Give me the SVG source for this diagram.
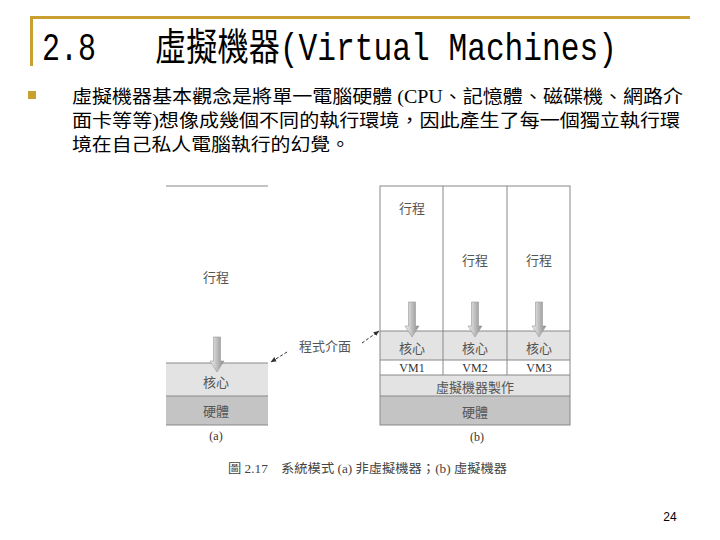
<svg xmlns="http://www.w3.org/2000/svg" width="720" height="540" viewBox="0 0 720 540">
<style>
.title{font-family:"Liberation Mono","Noto Sans CJK TC",monospace;font-size:38px;fill:#000}
.body{font-family:"Liberation Serif","Noto Sans CJK TC",serif;font-size:18px;fill:#000}
.lbl{font-family:"Noto Sans CJK TC",sans-serif;font-size:13px;fill:#555;text-anchor:middle;dominant-baseline:central}
.vm{font-family:"Liberation Serif","Noto Sans CJK TC",serif;font-size:12px;fill:#333;text-anchor:middle;dominant-baseline:central}
.cap{font-family:"Liberation Serif","Noto Sans CJK TC",serif;font-size:12.5px;fill:#444}
.ln{stroke:#888;stroke-width:1;fill:none}
.k{fill:#e3e3e3}
.h{fill:#c4c4c4}
.dash{stroke:#333;stroke-width:1;stroke-dasharray:3,2;fill:none}
</style>
<defs>
<linearGradient id="ag" x1="0" y1="0" x2="1" y2="0">
<stop offset="0" stop-color="#f2f2f2"/>
<stop offset="1" stop-color="#8a8a8a"/>
</linearGradient>
<path id="barrow" d="M-3.5,0 H3.5 V24 H7 L0,35 L-7,24 H-3.5 Z" fill="url(#ag)" stroke="#999" stroke-width="0.6"/>
<marker id="mh" viewBox="0 0 10 10" refX="9" refY="5" markerWidth="6" markerHeight="6" orient="auto">
<path d="M0,1 L10,5 L0,9 Z" fill="#333"/>
</marker>
</defs>
<rect width="720" height="540" fill="#fff"/>
<g id="title-bar">
<line x1="30" y1="17.5" x2="690" y2="17.5" stroke="#c9a030" stroke-width="3"/>
<line x1="31.5" y1="16" x2="31.5" y2="66" stroke="#c9a030" stroke-width="3"/>
</g>
<g id="title">
<text class="title" x="42" y="60" textLength="54" lengthAdjust="spacingAndGlyphs">2.8</text>
<text class="title" x="155" y="60" textLength="462" lengthAdjust="spacingAndGlyphs">虛擬機器(Virtual Machines)</text>
</g>
<g id="bullet">
<rect x="28" y="91" width="8" height="8" fill="#c9a030"/>
<text class="body" x="72" y="103" textLength="611" lengthAdjust="spacingAndGlyphs">虛擬機器基本觀念是將單一電腦硬體 (CPU、記憶體、磁碟機、網路介</text>
<text class="body" x="72" y="127" textLength="608" lengthAdjust="spacingAndGlyphs">面卡等等)想像成幾個不同的執行環境，因此產生了每一個獨立執行環</text>
<text class="body" x="72" y="151" textLength="278" lengthAdjust="spacingAndGlyphs">境在自己私人電腦執行的幻覺。</text>
</g>
<g id="fig-a">
<line class="ln" x1="166" y1="186" x2="268" y2="186"/>
<text class="lbl" x="216" y="276">行程</text>
<rect class="k" x="166" y="363" width="102" height="33"/>
<rect class="h" x="166" y="396" width="102" height="29"/>
<line class="ln" x1="166" y1="363" x2="268" y2="363"/>
<line class="ln" x1="166" y1="396" x2="268" y2="396"/>
<line class="ln" x1="166" y1="425" x2="268" y2="425"/>
<text class="lbl" x="216" y="381">核心</text>
<text class="lbl" x="216" y="410">硬體</text>
<text class="vm" x="216" y="436">(a)</text>
</g>
<g id="fig-b">
<rect class="k" x="380" y="331" width="190" height="29"/>
<rect class="k" x="380" y="375" width="190" height="21"/>
<rect class="h" x="380" y="396" width="190" height="29"/>
<rect class="ln" x="380" y="186" width="190" height="239"/>
<line class="ln" x1="443" y1="186" x2="443" y2="375"/>
<line class="ln" x1="507" y1="186" x2="507" y2="375"/>
<line class="ln" x1="380" y1="331" x2="570" y2="331"/>
<line class="ln" x1="380" y1="360" x2="570" y2="360"/>
<line class="ln" x1="380" y1="375" x2="570" y2="375"/>
<line class="ln" x1="380" y1="396" x2="570" y2="396"/>
<text class="lbl" x="412" y="207">行程</text>
<text class="lbl" x="475" y="259">行程</text>
<text class="lbl" x="539" y="259">行程</text>
<text class="lbl" x="412" y="347">核心</text>
<text class="lbl" x="475" y="347">核心</text>
<text class="lbl" x="539" y="347">核心</text>
<text class="vm" x="412" y="368">VM1</text>
<text class="vm" x="475" y="368">VM2</text>
<text class="vm" x="539" y="368">VM3</text>
<text class="lbl" x="475" y="386">虛擬機器製作</text>
<text class="lbl" x="475" y="411">硬體</text>
<text class="vm" x="477" y="437">(b)</text>
</g>
<g id="interface-label">
<text class="lbl" x="325" y="345">程式介面</text>
</g>
<g id="connectors">
<use href="#barrow" x="217" y="337"/>
<use href="#barrow" x="412" y="302"/>
<use href="#barrow" x="475" y="302"/>
<use href="#barrow" x="539" y="302"/>
<line class="dash" x1="287" y1="352" x2="271" y2="362" marker-end="url(#mh)"/>
<line class="dash" x1="362" y1="343" x2="379" y2="331" marker-end="url(#mh)"/>
</g>
<g id="caption">
<text class="cap" x="228" y="473" textLength="279" lengthAdjust="spacingAndGlyphs">圖 2.17　系統模式 (a) 非虛擬機器；(b) 虛擬機器</text>
</g>
<g id="page-number">
<text x="670" y="521" font-family="Liberation Sans, sans-serif" font-size="12" text-anchor="middle" fill="#000">24</text>
</g>
</svg>
